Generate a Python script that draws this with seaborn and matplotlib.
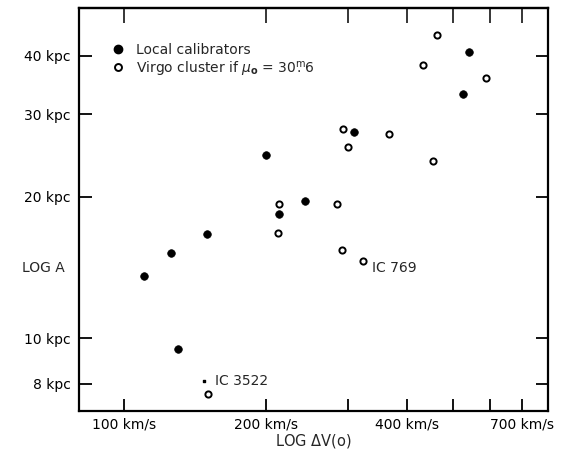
import matplotlib
matplotlib.use("Agg")
import matplotlib.pyplot as plt
import seaborn as sns
import pandas as pd
from matplotlib.lines import Line2D

sns.set_style("ticks")
plt.rcParams["font.family"] = ["DejaVu Sans"]
plt.rcParams["mathtext.fontset"] = "dejavusans"

# Local calibrators: velocity width (km/s) and linear diameter (kpc)
local_dv = [541, 525, 309, 200, 242, 213, 150, 126, 110, 130]
local_a = [40.7, 33.2, 27.5, 24.6, 19.6, 18.4, 16.7, 15.2, 13.6, 9.5]

# Virgo cluster galaxies for mu_0 = 30.6 mag
virgo_dv = [463, 433, 589, 292, 366, 300, 453, 213, 283, 212, 290, 322, 151]
virgo_a = [44.2, 38.3, 35.8, 27.9, 27.3, 25.5, 23.9, 19.3, 19.3, 16.8, 15.4, 14.6, 7.6]

# Named galaxies: label, velocity width, diameter of the label anchor
name_labels = ["IC 769", "IC 3522"]
name_dv = [336, 156]
name_a = [14.1, 8.1]

# Stray tick next to IC 3522
tick_dv = [148]
tick_a = [8.1]

x_ticks = [100, 200, 300, 400, 500, 600, 700]
x_labels = ["100 km/s", "200 km/s", "", "400 km/s", "", "", "700 km/s"]
y_ticks = [8, 10, 20, 30, 40]
y_labels = ["8 kpc", "10 kpc", "20 kpc", "30 kpc", "40 kpc"]

local = pd.DataFrame({"dv": local_dv, "a": local_a})
virgo = pd.DataFrame({"dv": virgo_dv, "a": virgo_a})

FS = 10

fig = plt.figure(figsize=(5.62, 4.5), dpi=100)
ax = fig.add_axes([0.1406, 0.0856, 0.8345, 0.896])

sns.scatterplot(data=local, x="dv", y="a", ax=ax, color="black", s=30,
                edgecolor="black", linewidth=0.5, zorder=3)
sns.scatterplot(data=virgo, x="dv", y="a", ax=ax, facecolor="white", s=20,
                edgecolor="black", linewidth=1.4, zorder=3)
ax.scatter(tick_dv, tick_a, s=1.5, color="black", marker="s", zorder=3)

ax.set_xscale("log")
ax.set_yscale("log")
ax.set_xlim(80.2, 797)
ax.set_ylim(6.98, 50.5)

ax.set_xticks(x_ticks)
ax.set_xticklabels(x_labels)
ax.set_yticks(y_ticks)
ax.set_yticklabels(y_labels)
ax.minorticks_off()
ax.tick_params(axis="both", which="major", direction="in", length=9, width=1.3,
               right=True, labelsize=FS, pad=6, colors="black")
ax.tick_params(axis="x", pad=4)
for sp in ax.spines.values():
    sp.set_linewidth(1.6)
    sp.set_color("black")

# longer inward ticks along the top edge
top = ax.secondary_xaxis("top")
top.set_xticks(x_ticks)
top.set_xticklabels([])
top.minorticks_off()
top.tick_params(direction="in", length=11, width=1.3)
top.spines["top"].set_linewidth(1.6)

ax.set_xlabel(r"LOG $\Delta$V(o)", fontsize=FS + 0.5, labelpad=1)
ax.set_ylabel("")
fig.text(0.04, 0.405, "LOG A", fontsize=FS, ha="left", va="center")

for lab, x, y in zip(name_labels, name_dv, name_a):
    ax.text(x, y, lab, fontsize=FS, ha="left", va="center")

handles = [
    Line2D([], [], linestyle="none", marker="o", markersize=6,
           markerfacecolor="black", markeredgecolor="black"),
    Line2D([], [], linestyle="none", marker="o", markersize=5,
           markerfacecolor="white", markeredgecolor="black", markeredgewidth=1.4),
]
labels = ["Local calibrators",
          r"Virgo cluster if $\mu_{\mathbf{o}}$ = 30$\overset{\mathrm{m}}{.}$6"]
ax.legend(handles, labels, loc="upper left", bbox_to_anchor=(0.068, 0.915),
          frameon=False, handlelength=1.0, handletextpad=0.8, labelspacing=0.15,
          borderpad=0, borderaxespad=0, fontsize=FS)

fig.savefig("out.png", dpi=100)
